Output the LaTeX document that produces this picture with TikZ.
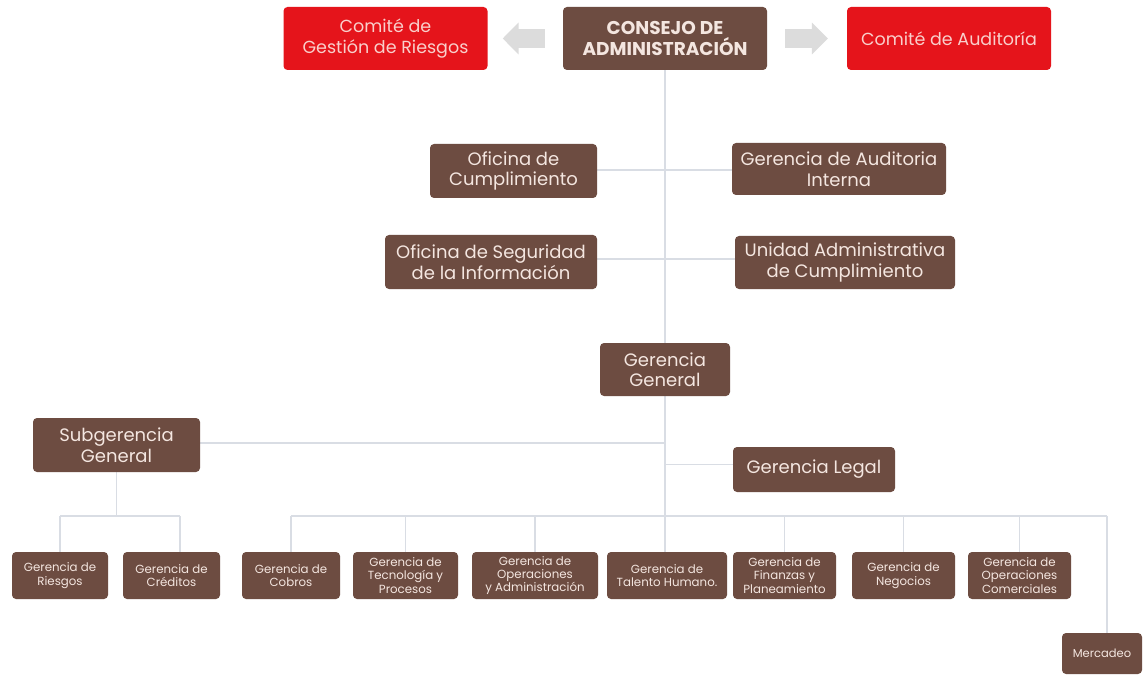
\documentclass[tikz,border=0pt]{standalone}
\usepackage{fontspec}
\setmainfont{Poppins}
\usetikzlibrary{arrows.meta,backgrounds}
\definecolor{brownbox}{HTML}{6D4C41}
\definecolor{redbox}{HTML}{E5141B}
\definecolor{boxtext}{HTML}{F4E6E0}
\definecolor{redtext}{HTML}{F9CFCB}
\definecolor{linegray}{HTML}{D9DDE4}
\definecolor{arrowgray}{HTML}{DCDCDC}
\tikzset{
  box/.style={fill=brownbox, text=boxtext, rounded corners=4pt, inner sep=0pt, align=center},
  redb/.style={fill=redbox, text=redtext, rounded corners=4pt, inner sep=0pt, align=center,
    minimum width=204pt, minimum height=63pt, font=\fontsize{17.5}{21}\selectfont},
  midb/.style={box, font=\fontsize{18}{20.5}\selectfont},
  smallb/.style={box, minimum height=47pt, font=\fontsize{11.8}{13.2}\selectfont},
  conn/.style={draw=linegray, line width=1.5pt},
  bigarrow/.style={draw=arrowgray, line width=19pt, -{Triangle[width=31pt,length=16pt]}}
}
\begin{document}
\begin{tikzpicture}[x=1pt,y=-1pt]
\useasboundingbox (0,0) rectangle (1145,676);
% bus coordinates
\coordinate (busL) at (291,516);
\coordinate (busR) at (1107,516);
\coordinate (busM) at (665,516);
\coordinate (sbus) at (116.5,516);
\coordinate (sbusL) at (60,516);
\coordinate (sbusR) at (180,516);
% top row
\node[redb] (gestion) at (385.5,38.5) {Comité de\\Gestión de Riesgos};
\node[box, minimum width=204pt, minimum height=63pt, font=\bfseries\fontsize{18.5}{21}\selectfont] (consejo) at (665,38.5) {CONSEJO DE\\ADMINISTRACIÓN};
\node[redb] (comaud) at (949,38.5) {Comité de Auditoría};
% middle
\node[midb, minimum width=167pt, minimum height=54pt] (ofcump) at (513.5,171) {Oficina de\\Cumplimiento};
\node[midb, minimum width=214pt, minimum height=52pt] (gaudit) at (839,169) {Gerencia de Auditoria\\Interna};
\node[midb, minimum width=212pt, minimum height=54pt] (ofseg) at (491,262) {Oficina de Seguridad\\de la Información};
\node[midb, minimum width=220pt, minimum height=53pt] (unidad) at (845,262.5) {Unidad Administrativa\\de Cumplimiento};
\node[midb, minimum width=130pt, minimum height=53pt] (gg) at (665,369.5) {Gerencia\\General};
\node[midb, minimum width=167pt, minimum height=54pt] (sub) at (116.5,445) {Subgerencia\\General};
\node[midb, minimum width=162pt, minimum height=45pt] (legal) at (814,469.5) {Gerencia Legal};
% bottom row
\node[smallb, minimum width=96pt] (riesgos) at (60,575.5) {Gerencia de\\Riesgos};
\node[smallb, minimum width=97pt] (creditos) at (171.5,575.5) {Gerencia de\\Créditos};
\node[smallb, minimum width=98pt] (cobros) at (291,575.5) {Gerencia de\\Cobros};
\node[smallb, minimum width=105pt] (tecno) at (405.5,575.5) {Gerencia de\\Tecnología y\\Procesos};
\node[smallb, minimum width=126pt] (opadm) at (535,575.5) {Gerencia de\\Operaciones\\y Administración};
\node[smallb, minimum width=120pt] (talento) at (667,575.5) {Gerencia de\\Talento Humano.};
\node[smallb, minimum width=103pt] (finanzas) at (784.5,575.5) {Gerencia de\\Finanzas y\\Planeamiento};
\node[smallb, minimum width=103pt] (negocios) at (903.5,575.5) {Gerencia de\\Negocios};
\node[smallb, minimum width=103pt] (comerc) at (1019.5,575.5) {Gerencia de\\Operaciones\\Comerciales};
\node[box, minimum width=80pt, minimum height=41pt, font=\fontsize{11.5}{13}\selectfont] (mercadeo) at (1102,653.5) {Mercadeo};
% arrows
\draw[bigarrow] ([xshift=-18pt]consejo.west) -- ([xshift=15pt]gestion.east);
\draw[bigarrow] ([xshift=18pt]consejo.east) -- ([xshift=-19pt]comaud.west);
% connectors
\begin{scope}[on background layer]
\fill[white] (0,0) rectangle (1145,676);
\draw[conn] (consejo.south) -- (busM);
\draw[conn] ([yshift=1pt]ofcump.east) -- ([yshift=1pt]ofcump.east -| gaudit.west);
\draw[conn] ([yshift=3pt]ofseg.east) -- ([yshift=3pt]ofseg.east -| unidad.west);
\draw[conn] ([yshift=2pt]sub.east) -- ([yshift=2pt]sub.east -| gg.south);
\draw[conn] ([yshift=5pt]legal.west) -- ([yshift=5pt]legal.west -| gg.south);
\draw[conn] (busL) -- (busR);
\draw[conn] (sub.south) -- (sbus);
\draw[conn] (sbusL) -- (sbusR);
\draw[conn] (sbusL) -- (riesgos.north);
\draw[conn] (sbusR) -- (sbusR |- creditos.north);
\draw[conn] (busL) -- (cobros.north);
\draw[conn] (tecno.north |- busL) -- (tecno.north);
\draw[conn] (opadm.north |- busL) -- (opadm.north);
\draw[conn] (busM) -- (busM |- talento.north);
\draw[conn] (finanzas.north |- busL) -- (finanzas.north);
\draw[conn] (negocios.north |- busL) -- (negocios.north);
\draw[conn] (comerc.north |- busL) -- (comerc.north);
\draw[conn] (busR) -- (busR |- mercadeo.north);
\end{scope}
\end{tikzpicture}
\end{document}
